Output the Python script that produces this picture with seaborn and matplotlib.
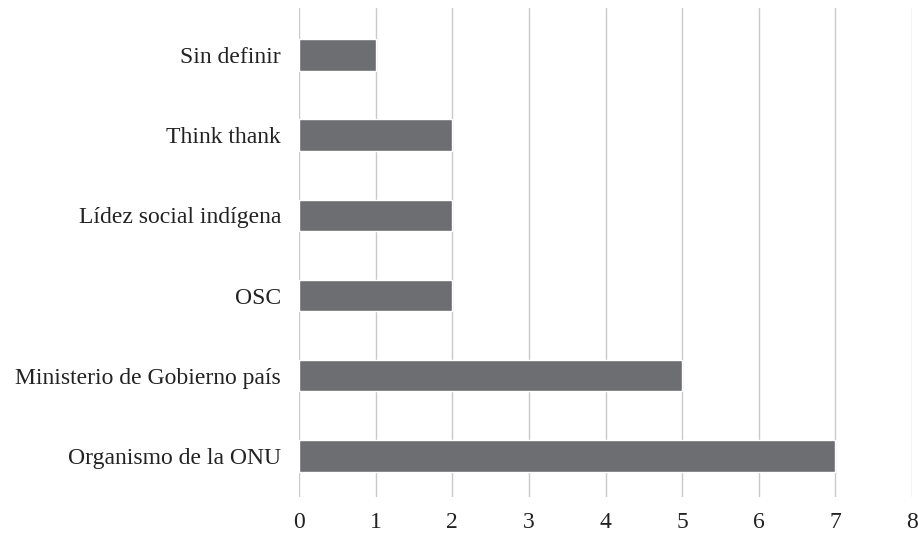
import matplotlib
matplotlib.use("Agg")
import matplotlib.pyplot as plt
import seaborn as sns
import pandas as pd

# data
categories = ["Sin definir", "Think thank", "Lídez social indígena", "OSC",
              "Ministerio de Gobierno país", "Organismo de la ONU"]
values = [1, 2, 2, 2, 5, 7]

df = pd.DataFrame({"categoria": categories, "valor": values})

sns.set_style("white")
plt.rcParams['font.family'] = ['Liberation Serif', 'DejaVu Serif']

fig = plt.figure(figsize=(9.18, 5.34), dpi=100)
ax = fig.add_axes([0.3257, 0.0693, 0.6678, 0.916])

sns.barplot(data=df, x="valor", y="categoria", color="#6d6e71",
            width=0.39, saturation=1, ax=ax, zorder=3)

ax.set_xlim(0, 8)
ax.set_ylim(5.51, -0.586)
ax.set_xticks(range(0, 9))
ax.xaxis.grid(True, color="#c9c9c9", linewidth=1, zorder=0)
ax.yaxis.grid(False)
for s in ax.spines.values():
    s.set_visible(False)
ax.set_xlabel("")
ax.set_ylabel("")
ax.tick_params(axis="x", labelsize=17, labelcolor="#222222", length=8, width=1,
               color="#c9c9c9", direction="out", pad=3)
ax.tick_params(axis="y", labelsize=17, length=0, pad=13, labelcolor="#222222")

fig.savefig("out.png", dpi=100)
